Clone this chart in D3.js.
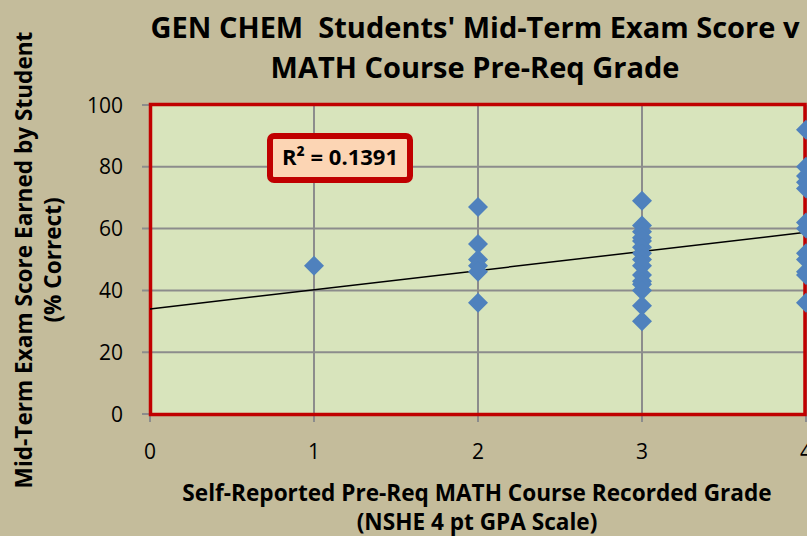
<!DOCTYPE html>
<html><head><meta charset="utf-8">
<script src="https://cdn.jsdelivr.net/npm/d3@7"></script>
<style>body{margin:0;background:#C4BC9B;}svg{display:block;}text{white-space:pre;}</style>
</head><body>
<svg id="c" width="807" height="536"></svg>
<script>
const titleLines = ["GEN CHEM  Students' Mid-Term Exam Score v", "MATH Course Pre-Req Grade"];
const yTitleLines = ["Mid-Term Exam Score Earned by Student", "(% Correct)"];
const xTitleLines = ["Self-Reported Pre-Req MATH Course Recorded Grade", "(NSHE 4 pt GPA Scale)"];
const xTicks = [0, 1, 2, 3, 4];
const yTicks = [0, 20, 40, 60, 80, 100];
const grade1Scores = [48];
const grade2Scores = [67, 55, 50, 48, 46, 36];
const grade3Scores = [69, 61, 59, 57, 56, 54, 52, 50, 48, 45, 43, 42, 40, 35, 30];
const grade4Scores = [92, 80, 77, 75, 73, 62, 60, 52, 50, 46, 45, 36];
const trendIntercept = 34;
const trendSlope = 6.2;
const r2Label = "R² = 0.1391";

const points = [
  ...grade1Scores.map(v => [1, v]),
  ...grade2Scores.map(v => [2, v]),
  ...grade3Scores.map(v => [3, v]),
  ...grade4Scores.map(v => [4, v])
];

const svg = d3.select("#c");
const x = d3.scaleLinear().domain([0, 4]).range([150, 806]);
const y = d3.scaleLinear().domain([0, 100]).range([414, 105]);
const FONT = "Open Sans, sans-serif";

svg.append("rect").attr("width", 807).attr("height", 536).attr("fill", "#C4BC9B");
svg.append("rect").attr("x", x(0)).attr("y", y(100)).attr("width", x(4) - x(0)).attr("height", y(0) - y(100)).attr("fill", "#D8E4BC");

svg.append("g").selectAll("line").data(yTicks).join("line")
  .attr("x1", x(0) - 8).attr("x2", x(4)).attr("y1", d => y(d)).attr("y2", d => y(d))
  .attr("stroke", "#8C8C8C").attr("stroke-width", 2);
svg.append("g").selectAll("line").data(xTicks).join("line")
  .attr("y1", y(100)).attr("y2", y(0) + 8).attr("x1", d => x(d)).attr("x2", d => x(d))
  .attr("stroke", "#8C8C8C").attr("stroke-width", 2);

svg.append("rect").attr("x", x(0) + 0.5).attr("y", y(100) - 0.5).attr("width", x(4) - x(0) - 1.5).attr("height", y(0) - y(100) + 1)
  .attr("fill", "none").attr("stroke", "#C00000").attr("stroke-width", 3.5);

svg.append("g").selectAll("text").data(yTicks).join("text")
  .attr("x", 123).attr("y", d => y(d)).attr("dy", "0.36em").attr("text-anchor", "end")
  .attr("font-family", FONT).attr("font-size", 21).attr("fill", "#000").text(d => d);
svg.append("g").selectAll("text").data(xTicks).join("text")
  .attr("x", d => x(d)).attr("y", 459).attr("text-anchor", "middle")
  .attr("font-family", FONT).attr("font-size", 21).attr("fill", "#000").text(d => d);

svg.append("line").attr("x1", x(0)).attr("y1", y(trendIntercept)).attr("x2", x(4)).attr("y2", y(trendIntercept + 4 * trendSlope))
  .attr("stroke", "#000").attr("stroke-width", 1.5);

const s = 10;
svg.append("g").selectAll("path").data(points).join("path")
  .attr("d", d => `M${x(d[0])},${y(d[1]) - s}L${x(d[0]) + s},${y(d[1])}L${x(d[0])},${y(d[1]) + s}L${x(d[0]) - s},${y(d[1])}Z`)
  .attr("fill", "#4F81BD");

svg.append("rect").attr("x", 270).attr("y", 136).attr("width", 140).attr("height", 44).attr("rx", 4)
  .attr("fill", "#FCD5B4").attr("stroke", "#C00000").attr("stroke-width", 6);
svg.append("text").attr("x", 340).attr("y", 165).attr("text-anchor", "middle")
  .attr("font-family", FONT).attr("font-weight", "bold").attr("font-size", 22).text(r2Label);

svg.append("g").selectAll("text").data(titleLines).join("text")
  .attr("x", 475).attr("y", (d, i) => 38 + i * 40).attr("text-anchor", "middle")
  .attr("font-family", FONT).attr("font-weight", "bold").attr("font-size", 29).text(d => d);

svg.append("g").selectAll("text").data(xTitleLines).join("text")
  .attr("x", 477).attr("y", (d, i) => 501 + i * 29).attr("text-anchor", "middle")
  .attr("font-family", FONT).attr("font-weight", "bold").attr("font-size", 22.6).text(d => d);

svg.append("g").selectAll("text").data(yTitleLines).join("text")
  .attr("transform", (d, i) => `translate(${32 + i * 29},260) rotate(-90)`).attr("text-anchor", "middle")
  .attr("font-family", FONT).attr("font-weight", "bold").attr("font-size", 22.6).text(d => d);
</script>
</body></html>
